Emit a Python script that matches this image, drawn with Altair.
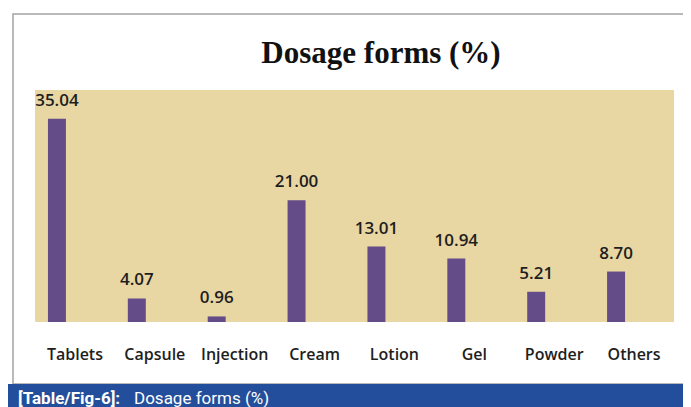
import altair as alt
import pandas as pd

categories = ["Tablets", "Capsule", "Injection", "Cream", "Lotion", "Gel", "Powder", "Others"]
values = [35.04, 4.07, 0.96, 21.00, 13.01, 10.94, 5.21, 8.70]

title_text = "Dosage forms (%)"
caption_bold = "[Table/Fig-6]:"
caption_text = "Dosage forms (%)"

df = pd.DataFrame({"form": categories, "pct": values})
one = pd.DataFrame({"k": [0]})

x_enc = alt.X(
    "form:N",
    sort=categories,
    scale=alt.Scale(paddingInner=0.775, paddingOuter=0.3875),
    axis=alt.Axis(
        title=None, domain=False, ticks=False, tickSize=0, labelAngle=0,
        labelPadding=24, labelFont="Open Sans",
        labelFontWeight=600, labelFontSize=16, labelColor="#1e1e1e",
        labelBaseline="top",
    ),
)
y_enc = alt.Y("pct:Q", scale=alt.Scale(domain=[0, 40], nice=False), axis=None)

border = alt.Chart(one).mark_rect(fill=None, stroke="#a2a2a2", strokeWidth=1.5).encode(
    x=alt.value(-22), x2=alt.value(700), y=alt.value(-76), y2=alt.value(294)
)
banner = alt.Chart(one).mark_rect(fill="#234e9b").encode(
    x=alt.value(-27), x2=alt.value(700), y=alt.value(294), y2=alt.value(330)
)
cap1 = alt.Chart(one).mark_text(
    text=caption_bold, font="Roboto", fontWeight="bold", fontSize=17,
    color="white", align="left", baseline="alphabetic",
).encode(x=alt.value(-17), y=alt.value(314))
cap2 = alt.Chart(one).mark_text(
    text=caption_text, font="Roboto", fontSize=17,
    color="white", align="left", baseline="alphabetic",
).encode(x=alt.value(99), y=alt.value(314))
title = alt.Chart(one).mark_text(
    text=title_text, font="Liberation Serif", fontWeight="bold", fontSize=31,
    color="#111111", align="center", baseline="alphabetic",
).encode(x=alt.value(346), y=alt.value(-27))

bars = alt.Chart(df).mark_bar(color="#634c87", xOffset=-18).encode(x=x_enc, y=y_enc)
labels = alt.Chart(df).mark_text(
    font="Open Sans", fontWeight=600, fontSize=17, color="#1e1e1e",
    baseline="alphabetic", dy=-13, dx=-18,
).encode(x=alt.X("form:N", sort=categories), y=y_enc, text=alt.Text("pct:Q", format=".2f"))

chart = (
    alt.layer(border, banner, cap1, cap2, title, bars, labels)
    .properties(
        width=639, height=232,
        autosize=alt.AutoSizeParams(type="none"),
        padding={"left": 27, "top": 82, "right": 9, "bottom": 85},
        background="white",
    )
    .configure_view(fill="#e8d6a3", stroke=None)
)

chart.save("out.html", embed_options={"renderer": "svg", "actions": False})
